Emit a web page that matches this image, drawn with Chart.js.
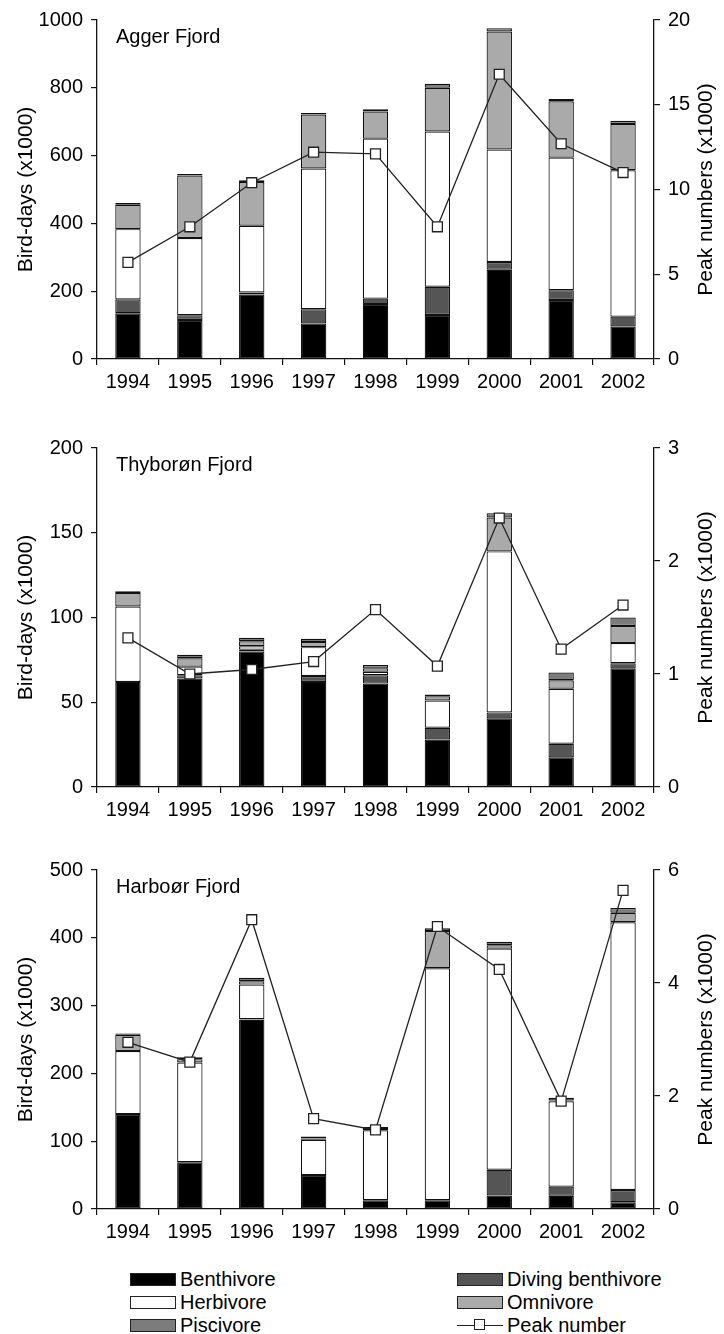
<!DOCTYPE html>
<html>
<head>
<meta charset="utf-8">
<title>Bird-days and peak numbers</title>
<script src="https://cdn.jsdelivr.net/npm/chart.js@4.4.1/dist/chart.umd.min.js"></script>
<style>
  body {margin: 0; background: #fff; font-family: "Liberation Sans", Arial, sans-serif;}
  #page {position: relative; width: 724px; height: 1334px; overflow: hidden;}
  .panel {position: absolute; left: 0; width: 724px; height: 400px;}
  .item {position: absolute; height: 22px; line-height: 22px; font-size: 20px; color: #000; white-space: nowrap;}
  .swatch {position: absolute; left: 0; top: 5px; width: 46px; height: 13px; border: 1.3px solid #222; box-sizing: border-box;}
  .item .txt {position: absolute; left: 50px; top: 0;}
  .pline {position: absolute; left: 0; top: 11px; width: 46px; height: 0; border-top: 1.3px solid #222;}
  .pbox {position: absolute; left: 17px; top: 5px; width: 11px; height: 11px; background: #fff; border: 1.3px solid #222; box-sizing: border-box;}
</style>
</head>
<body>
<div id="page">
  <canvas class="panel" id="agger" width="724" height="400" style="top:0px"></canvas>
  <canvas class="panel" id="thyboron" width="724" height="400" style="top:428px"></canvas>
  <canvas class="panel" id="harboor" width="724" height="400" style="top:850px"></canvas>
  <div id="legend"></div>
</div>

<script>
// ---- data (x1000 bird-days, peak numbers x1000) ----
var years = ['1994', '1995', '1996', '1997', '1998', '1999', '2000', '2001', '2002'];
var seriesNames = ['Benthivore', 'Diving benthivore', 'Herbivore', 'Omnivore', 'Piscivore'];
var peakName = 'Peak number';

var aggerBenthivore = [135, 115, 190, 105, 162, 130, 263, 174, 96];
var aggerDiving     = [41, 14, 6, 42, 16, 83, 23, 29, 29];
var aggerHerbivore  = [207, 228, 197, 415, 472, 458, 332, 391, 432];
var aggerOmnivore   = [72, 184, 129, 159, 80, 129, 348, 166, 136];
var aggerPiscivore  = [5, 5, 5, 5, 7, 12, 10, 7, 10];
var aggerPeak       = [5.7, 7.8, 10.4, 12.2, 12.1, 7.8, 16.8, 12.7, 11.0];

var thyBenthivore = [62, 64, 80, 62, 61, 28, 40.5, 17.5, 70];
var thyDiving     = [0, 2, 1, 3.5, 5, 7, 3.5, 8, 3];
var thyHerbivore  = [44.5, 5, 2, 17, 2, 16, 95, 32.5, 12];
var thyOmnivore   = [8, 5, 3, 3, 2, 2.5, 20, 5, 10];
var thyPiscivore  = [1, 2, 2, 2, 2, 1, 2.5, 4.5, 5];
var thyPeak       = [1.32, 1.0, 1.04, 1.11, 1.57, 1.07, 2.38, 1.22, 1.61];

var harBenthivore = [140, 69, 279, 50, 13, 13, 20, 19.5, 10];
var harDiving     = [0, 0, 1, 0, 0, 0, 38, 13.5, 18];
var harHerbivore  = [93, 147, 51, 52, 103, 342, 326, 126, 395];
var harOmnivore   = [24, 5, 5, 2, 2, 55, 5, 1, 14];
var harPiscivore  = [2, 3, 5, 3, 3, 4, 5, 4, 7];
var harPeak       = [2.95, 2.6, 5.12, 1.6, 1.4, 5.0, 4.24, 1.91, 5.64];

// styles
var fills = ['#000000', '#555555', '#ffffff', '#aaaaaa', '#7c7c7c'];
var ink = '#111';

Chart.defaults.font.family = '"Liberation Sans", Arial, sans-serif';
Chart.defaults.color = '#000';

// fjord name inside the plot area + right axis title reading bottom-to-top
var panelText = {
  id: 'panelText',
  afterDraw: function(chart, args, opts) {
    var ctx = chart.ctx;
    var area = chart.chartArea;
    ctx.save();
    ctx.font = '20px "Liberation Sans", Arial, sans-serif';
    ctx.fillStyle = '#000';
    ctx.textBaseline = 'middle';
    ctx.fillText(opts.title, area.left + 19, area.top + 17);
    ctx.font = '21px "Liberation Sans", Arial, sans-serif';
    ctx.textAlign = 'center';
    ctx.translate(706, (area.top + area.bottom) / 2);
    ctx.rotate(-Math.PI / 2);
    ctx.fillText(opts.rightTitle, 0, 0);
    ctx.restore();
  }
};

function plain(v) { return String(v); }

function makePanel(id, title, groups, peak, leftMax, leftStep, rightMax, rightStep) {
  var datasets = [];
  datasets.push({
    type: 'line',
    label: peakName,
    data: peak,
    yAxisID: 'y1',
    order: 0,
    borderColor: '#222',
    borderWidth: 1.3,
    tension: 0,
    pointStyle: 'rect',
    pointRadius: 7,
    pointBackgroundColor: '#fff',
    pointBorderColor: '#222',
    pointBorderWidth: 1.3
  });
  for (var i = 0; i < groups.length; i++) {
    datasets.push({
      type: 'bar',
      label: seriesNames[i],
      data: groups[i],
      yAxisID: 'y',
      order: 1,
      backgroundColor: fills[i],
      borderColor: ink,
      borderWidth: 1.2,
      borderSkipped: false,
      categoryPercentage: 1,
      barPercentage: 0.41
    });
  }

  var tickFont = {size: 20};
  return new Chart(document.getElementById(id), {
    data: {labels: years, datasets: datasets},
    plugins: [panelText],
    options: {
      responsive: false,
      animation: false,
      devicePixelRatio: 1,
      layout: {padding: {top: 17, left: 0, right: 0, bottom: 0}},
      plugins: {
        legend: {display: false},
        tooltip: {enabled: false},
        panelText: {title: title, rightTitle: 'Peak numbers (x1000)'}
      },
      scales: {
        x: {
          stacked: true,
          offset: true,
          grid: {offset: true, drawOnChartArea: false, tickLength: 6, color: ink, lineWidth: 1.2},
          border: {color: ink, width: 1.3},
          ticks: {color: '#000', font: tickFont, padding: 5, maxRotation: 0, autoSkip: false},
          afterFit: function(s) { s.height = 41; }
        },
        y: {
          stacked: true,
          position: 'left',
          min: 0,
          max: leftMax,
          ticks: {stepSize: leftStep, color: '#000', font: tickFont, padding: 8, callback: plain},
          grid: {drawOnChartArea: false, tickLength: 6, color: ink, lineWidth: 1.2},
          border: {color: ink, width: 1.3},
          title: {display: true, text: 'Bird-days (x1000)', color: '#000', font: {size: 21}, padding: {top: 14, bottom: 0}},
          afterFit: function(s) { s.width = 97; }
        },
        y1: {
          position: 'right',
          min: 0,
          max: rightMax,
          ticks: {stepSize: rightStep, color: '#000', font: tickFont, padding: 8, callback: plain},
          grid: {drawOnChartArea: false, tickLength: 6, color: ink, lineWidth: 1.2},
          border: {color: ink, width: 1.3},
          afterFit: function(s) { s.width = 70; }
        }
      }
    }
  });
}

makePanel('agger', 'Agger Fjord',
  [aggerBenthivore, aggerDiving, aggerHerbivore, aggerOmnivore, aggerPiscivore],
  aggerPeak, 1000, 200, 20, 5);
makePanel('thyboron', 'Thyborøn Fjord',
  [thyBenthivore, thyDiving, thyHerbivore, thyOmnivore, thyPiscivore],
  thyPeak, 200, 50, 3, 1);
makePanel('harboor', 'Harboør Fjord',
  [harBenthivore, harDiving, harHerbivore, harOmnivore, harPiscivore],
  harPeak, 500, 100, 6, 2);

// legend: left column Benthivore, Herbivore, Piscivore; right column Diving benthivore, Omnivore, Peak number
var legend = document.getElementById('legend');
var cells = [
  {idx: 0, x: 130, y: 1268},
  {idx: 2, x: 130, y: 1291},
  {idx: 4, x: 130, y: 1314},
  {idx: 1, x: 457, y: 1268},
  {idx: 3, x: 457, y: 1291},
  {idx: -1, x: 457, y: 1314}
];
cells.forEach(function(c) {
  var item = document.createElement('div');
  item.className = 'item';
  item.style.left = c.x + 'px';
  item.style.top = c.y + 'px';
  if (c.idx >= 0) {
    var sw = document.createElement('div');
    sw.className = 'swatch';
    sw.style.background = fills[c.idx];
    item.appendChild(sw);
  } else {
    var ln = document.createElement('div');
    ln.className = 'pline';
    item.appendChild(ln);
    var bx = document.createElement('div');
    bx.className = 'pbox';
    item.appendChild(bx);
  }
  var t = document.createElement('span');
  t.className = 'txt';
  t.textContent = c.idx >= 0 ? seriesNames[c.idx] : peakName;
  item.appendChild(t);
  legend.appendChild(item);
});
</script>
</body>
</html>
